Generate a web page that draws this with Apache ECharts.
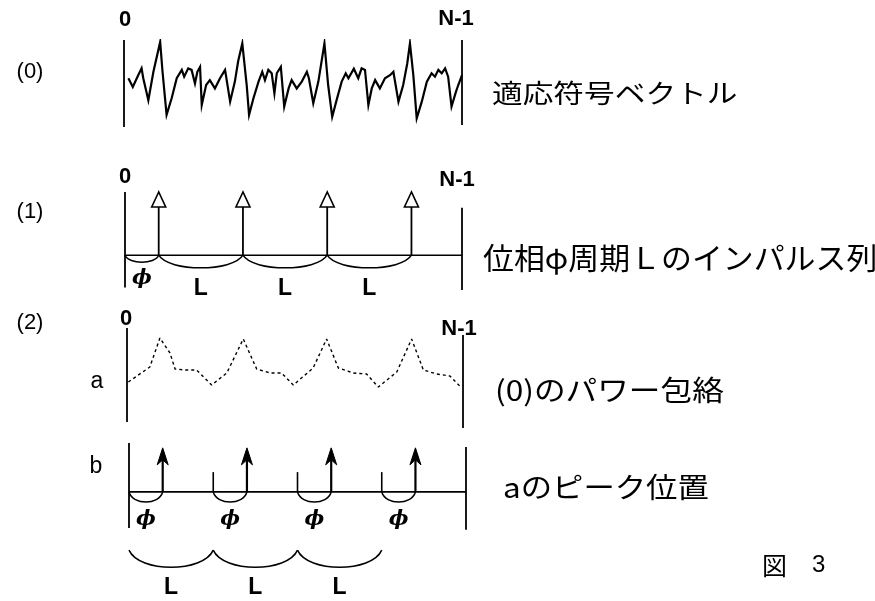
<!DOCTYPE html>
<html>
<head>
<meta charset="utf-8">
<script src="https://cdn.jsdelivr.net/npm/echarts@6/dist/echarts.min.js"></script>
<style>
html, body { margin: 0; background: #fff; }
#chart { width: 875px; height: 601px; }
</style>
</head>
<body>
<div id="chart"></div>
<script>
// sample index runs 0 .. N-1, drawn as 0 .. 100
var N_LAST = 100;
var PHI = 10;
var pulsePos = [10, 35, 60, 85];      // phase phi, period L
var periodMarks = [25, 50, 75];       // period boundaries in (2)b

// (0) adaptive code vector
var waveIdx = [1.3, 2.6, 4.2, 5.2, 5.7, 7.2, 8.7, 10.7, 11.4, 12.6, 14.1, 15.6, 17.1, 17.8, 19.0, 20.0,
  21.0, 21.7, 22.5, 23.0, 24.3, 25.4, 26.9, 28.4, 29.9, 31.4, 32.8, 33.8, 35.0, 36.3, 37.0, 38.3,
  39.8, 40.9, 41.7, 42.7, 43.7, 44.5, 45.2, 46.4, 47.4, 48.7, 49.6, 51.1, 52.6, 54.1, 54.7, 56.0,
  57.5, 59.3, 60.4, 61.6, 62.9, 64.4, 65.6, 66.4, 68.0, 69.3, 70.3, 71.3, 72.3, 73.3, 74.3, 75.7,
  77.2, 78.7, 79.7, 81.2, 82.6, 83.8, 84.6, 85.6, 86.6, 88.1, 89.6, 91.0, 92.0, 93.0, 94.0, 95.0,
  95.9, 96.9, 98.2, 98.9, 100];
var waveAmp = [-0.01, -0.24, 0.07, 0.25, -0.01, -0.59, 0.16, 0.95, 0.16, -0.98, -0.54, -0.01, 0.21, 0.03, 0.25, 0.21,
  -0.15, 0.16, 0.29, -0.72, -0.19, -0.06, -0.28, -0.01, 0.21, -0.63, -0.10, 0.45, 0.91, -0.19, -0.98, -0.54,
  -0.10, 0.16, -0.06, 0.21, 0.12, -0.41, 0.12, 0.29, -0.76, -0.28, -0.06, -0.28, -0.10, 0.16, -0.01, -0.67,
  -0.10, 0.91, -0.19, -1.03, -0.59, -0.10, 0.12, -0.01, 0.24, -0.01, 0.25, 0.21, -0.72, -0.28, -0.06, -0.28,
  -0.01, 0.07, 0.16, -0.63, -0.19, 0.38, 0.91, 0.07, -1.07, -0.63, -0.10, 0.12, 0.03, 0.21, 0.12, 0.25,
  0.03, -0.76, -0.37, -0.19, 0.07];

// (2)a power envelope of (0)
var envIdx = [0.4, 6.8, 9.8, 12.8, 14.3, 17.3, 20.7, 25.2, 29.7, 34.6, 38.6, 42.6, 46.0, 49.5,
  55.4, 59.4, 62.9, 67.4, 71.3, 74.8, 80.3, 84.7, 88.2, 92.2, 96.1, 99.6];
var envVal = [0.46, 0.61, 0.90, 0.75, 0.59, 0.58, 0.58, 0.43, 0.55, 0.89, 0.59, 0.55, 0.55, 0.43,
  0.60, 0.89, 0.60, 0.55, 0.54, 0.41, 0.56, 0.89, 0.58, 0.54, 0.52, 0.40];

var LATIN = '"Liberation Sans", Arial, sans-serif';
var JP = '"Noto Sans CJK JP", sans-serif';

function zip(a, b) {
  return a.map(function (v, i) { return [v, b[i]]; });
}

// vertical strokes: [x, yFrom, yTo]
function vSegs(gi, segs, w) {
  return {
    type: 'custom', xAxisIndex: gi, yAxisIndex: gi, silent: true, data: segs,
    renderItem: function (params, api) {
      var a = api.coord([api.value(0), api.value(1)]);
      var b = api.coord([api.value(0), api.value(2)]);
      return { type: 'line', shape: { x1: a[0], y1: a[1], x2: b[0], y2: b[1] },
        style: { stroke: '#000', lineWidth: w } };
    }
  };
}

// impulses at xs with height h
function arrows(gi, xs, h, open) {
  return {
    type: 'custom', xAxisIndex: gi, yAxisIndex: gi, silent: true,
    data: xs.map(function (x) { return [x, h]; }),
    renderItem: function (params, api) {
      var base = api.coord([api.value(0), 0]);
      var tip = api.coord([api.value(0), api.value(1)]);
      var x = tip[0], y = tip[1];
      var head, stemTop;
      if (open) {
        stemTop = y + 15;
        head = { type: 'polygon', shape: { points: [[x, y], [x - 7, y + 15], [x + 7, y + 15]] },
          style: { fill: '#fff', stroke: '#000', lineWidth: 1.6 } };
      } else {
        stemTop = y + 12;
        head = { type: 'polygon', shape: { points: [[x, y], [x - 5.5, y + 17], [x, y + 12], [x + 5.5, y + 17]] },
          style: { fill: '#000', stroke: '#000', lineWidth: 1 } };
      }
      return { type: 'group', children: [
        { type: 'line', shape: { x1: base[0], y1: base[1], x2: x, y2: stemTop },
          style: { stroke: '#000', lineWidth: open ? 1.8 : 2.2 } },
        head
      ] };
    }
  };
}

// hanging arcs under spans [x0, x1], with a letter below
function arcs(gi, spans, yTop, depth, text, gap, font) {
  return {
    type: 'custom', xAxisIndex: gi, yAxisIndex: gi, silent: true, data: spans,
    renderItem: function (params, api) {
      var p0 = api.coord([api.value(0), yTop]);
      var p1 = api.coord([api.value(1), yTop]);
      var d = api.coord([api.value(0), yTop - depth])[1] - p0[1];
      var w = p1[0] - p0[0];
      var path = 'M' + p0[0] + ',' + p0[1] +
        ' C' + (p0[0] + 0.12 * w) + ',' + (p0[1] + 1.33 * d) + ' ' +
        (p1[0] - 0.12 * w) + ',' + (p1[1] + 1.33 * d) + ' ' + p1[0] + ',' + p1[1];
      return { type: 'group', children: [
        { type: 'path', shape: { pathData: path }, style: { fill: null, stroke: '#000', lineWidth: 1.5 } },
        { type: 'text', x: (p0[0] + p1[0]) / 2, y: p0[1] + gap,
          style: { text: text, font: font, fill: '#000', align: 'center', verticalAlign: 'middle' } }
      ] };
    }
  };
}

function hidden(gi, min, max) {
  return { gridIndex: gi, type: 'value', min: min, max: max, show: false };
}

function txt(x, y, s, font, align, sx) {
  return { type: 'text', x: x, y: y, scaleX: sx || 1, silent: true,
    style: { text: s, font: font, fill: '#000', align: align || 'center', verticalAlign: 'middle' } };
}

var pulseSpans = [[0, PHI]];
var lSpans = [];
for (var i = 1; i < pulsePos.length; i++) lSpans.push([pulsePos[i - 1], pulsePos[i]]);
var phiSpansB = [[0, pulsePos[0]]].concat(periodMarks.map(function (m, i) { return [m, pulsePos[i + 1]]; }));
var lSpansB = [[0, periodMarks[0]]];
for (var j = 1; j < periodMarks.length; j++) lSpansB.push([periodMarks[j - 1], periodMarks[j]]);

var PHI_FONT = 'italic bold 21px "DejaVu Serif", serif';
var L_FONT = 'bold 23px ' + LATIN;
var END_FONT = 'bold 22px ' + LATIN;
var TAG_FONT = '22px ' + LATIN;

var chart = echarts.init(document.getElementById('chart'));
chart.setOption({
  backgroundColor: '#fff',
  animation: false,
  grid: [
    { left: 124, right: 413, top: 40, height: 87 },
    { left: 125, right: 413, top: 192, height: 98 },
    { left: 127, right: 412, top: 328, height: 100 },
    { left: 129, right: 409, top: 443, height: 127 }
  ],
  xAxis: [hidden(0, 0, N_LAST), hidden(1, 0, N_LAST), hidden(2, 0, N_LAST), hidden(3, 0, N_LAST)],
  yAxis: [hidden(0, -1.3, 1.0), hidden(1, -0.55, 1), hidden(2, 0, 1), hidden(3, -1.77, 1.11)],
  series: [
    // (0)
    vSegs(0, [[0, -1.3, 1.0], [N_LAST, -1.25, 1.0]], 1.8),
    { type: 'line', xAxisIndex: 0, yAxisIndex: 0, data: zip(waveIdx, waveAmp), showSymbol: false,
      silent: true, lineStyle: { color: '#000', width: 2.2, join: 'miter' } },
    // (1)
    vSegs(1, [[0, 1.0, -0.51], [N_LAST, 0.75, -0.55]], 1.8),
    { type: 'line', xAxisIndex: 1, yAxisIndex: 1, data: [[0, 0], [N_LAST, 0]], showSymbol: false,
      silent: true, lineStyle: { color: '#000', width: 1.6 } },
    arrows(1, pulsePos, 1, true),
    arcs(1, pulseSpans, 0, 0.11, 'ϕ', 23, PHI_FONT),
    arcs(1, lSpans, 0, 0.2, 'L', 33, L_FONT),
    // (2) a
    vSegs(2, [[0, 1.0, 0.06], [N_LAST, 0.93, 0]], 1.8),
    { type: 'line', xAxisIndex: 2, yAxisIndex: 2, data: zip(envIdx, envVal), showSymbol: false,
      silent: true, lineStyle: { color: '#000', width: 1.4, type: [3, 3] } },
    // (2) b
    vSegs(3, [[0, 1.11, -0.82], [N_LAST, 1.02, -0.86]], 1.8),
    vSegs(3, periodMarks.map(function (m) { return [m, 0, 0.45]; }), 1.6),
    { type: 'line', xAxisIndex: 3, yAxisIndex: 3, data: [[0, 0], [N_LAST, 0]], showSymbol: false,
      silent: true, lineStyle: { color: '#000', width: 1.8 } },
    arrows(3, pulsePos, 1, false),
    arcs(3, phiSpansB, 0, 0.23, 'ϕ', 28, PHI_FONT),
    arcs(3, lSpansB, -1.32, 0.39, 'L', 37, L_FONT)
  ],
  graphic: [
    txt(30, 72, '(0)', TAG_FONT),
    txt(30, 212, '(1)', TAG_FONT),
    txt(30, 323, '(2)', TAG_FONT),
    txt(97, 382, 'a', '23px ' + LATIN),
    txt(96, 467, 'b', '23px ' + LATIN),
    txt(125, 20, '0', END_FONT),
    txt(456, 19, 'N-1', END_FONT),
    txt(125, 177, '0', END_FONT),
    txt(457, 180, 'N-1', END_FONT),
    txt(126, 319, '0', END_FONT),
    txt(459, 329, 'N-1', END_FONT),
    txt(492, 93, '適応符号ベクトル', '26px ' + JP, 'left', 1.18),
    txt(483, 258, '位相φ周期Ｌのインパルス列', '30px ' + JP, 'left', 1.03),
    txt(495, 390, '(0)のパワー包絡', '28px ' + JP, 'left', 1.13),
    txt(503, 487, 'aのピーク位置', '28px ' + JP, 'left', 1.12),
    txt(762, 565, '図', '25px ' + JP, 'left'),
    txt(812, 565, '3', '24px ' + LATIN, 'left')
  ]
});
</script>
</body>
</html>
